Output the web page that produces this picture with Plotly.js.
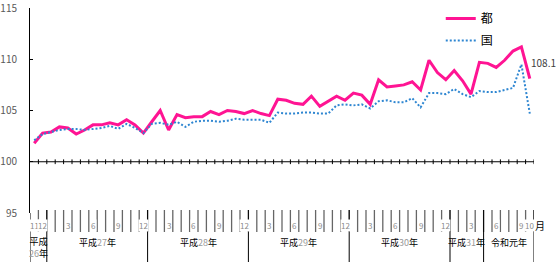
<!DOCTYPE html>
<html>
<head>
<meta charset="utf-8">
<script src="https://cdn.plot.ly/plotly-3.0.1.min.js"></script>
<style>html,body{margin:0;padding:0;background:#fff;}#chart{width:558px;height:265px;}</style>
</head>
<body>
<div id="chart"></div>
<script>
// ---- data ----
var months = [11,12,1,2,3,4,5,6,7,8,9,10,11,12,1,2,3,4,5,6,7,8,9,10,11,12,1,2,3,4,5,6,7,8,9,10,11,12,1,2,3,4,5,6,7,8,9,10,11,12,1,2,3,4,5,6,7,8,9,10];
var tokyo = [101.8,102.8,102.9,103.4,103.3,102.7,103.1,103.6,103.6,103.8,103.6,104.1,103.6,
             102.8,103.9,105.0,103.1,104.6,104.3,104.4,104.4,104.9,104.6,105.0,104.9,
             104.7,105.0,104.7,104.5,106.1,106.0,105.7,105.6,106.4,105.4,105.9,106.4,
             106.0,106.7,106.5,105.6,108.0,107.3,107.4,107.5,107.8,107.0,109.9,108.7,
             108.0,108.9,107.9,106.6,109.7,109.6,109.2,109.9,110.8,111.2,108.1];
var national = [102.1,102.7,102.9,103.1,103.2,103.2,103.1,103.2,103.3,103.5,103.2,103.7,103.3,
                102.8,103.7,103.8,103.6,103.9,103.4,103.9,104.0,104.0,103.9,104.0,104.2,
                104.1,104.1,104.1,103.8,104.8,104.7,104.7,104.8,104.8,104.7,104.7,105.5,
                105.6,105.5,105.6,105.2,105.9,106.0,105.8,105.8,106.2,105.3,106.7,106.7,
                106.6,107.1,106.6,106.3,106.9,106.8,106.8,107.0,107.2,109.5,104.7];
var eraNames = ['平成','平成','平成','平成','平成','平成','令和'];
var eraYears = ['26','27','28','29','30','31','元'];
var yearStartIdx = [0,2,14,26,38,50,54];
var seriesNames = ['都','国'];
var yTicks = [95,100,105,110,115];

// ---- build ----
var n = months.length;
var xs = months.map(function(_, i){ return i; });

var FONT = '"Noto Sans CJK JP", "Noto Sans", sans-serif';
var traces = [
  {x: xs, y: tokyo, name: seriesNames[0], type: 'scatter', mode: 'lines',
   line: {color: '#FF1493', width: 3}, legendgroup: 'a', hoverinfo: 'skip'},
  {x: xs, y: national, name: seriesNames[1], type: 'scatter', mode: 'lines',
   line: {color: '#2E86D1', width: 2, dash: '2px,2px'}, legendgroup: 'b', hoverinfo: 'skip'}
];

// plot area: 30..534 px horizontally, 8..213 px vertically
var TOP = 8, BOT = 213, H = BOT - TOP;
function py(p){ return (BOT - p) / H; } // pixel y -> paper y
var shapes = [];
shapes.push({type:'line', xref:'x', yref:'y', x0:-0.5, x1:n-0.5, y0:100, y1:100, line:{color:'#000', width:1.2}});
for (var k = 1; k <= n; k++) {
  shapes.push({type:'line', xref:'x', yref:'y', x0:k-0.5, x1:k-0.5, y0:99.77, y1:100.23, line:{color:'#000', width:1}});
  shapes.push({type:'line', xref:'x', yref:'paper', x0:k-0.5, x1:k-0.5, y0:py(210), y1:py(232), line:{color:'#666', width:1.3}});
}
var seps = yearStartIdx.slice(1).concat([n]);
seps.forEach(function(s){
  shapes.push({type:'line', xref:'x', yref:'paper', x0:s-0.5, x1:s-0.5, y0:py(210), y1:py(262), line:{color:'#000', width:1}});
});
shapes.push({type:'line', xref:'x', yref:'paper', x0:-0.5, x1:-0.5, y0:0, y1:py(262), line:{color:'#000', width:1}});

var annotations = [];
months.forEach(function(m, i){
  if (i === 0 || i === n - 1 || m % 3 === 0) {
    annotations.push({x:i, y:py(225), xref:'x', yref:'paper', text:String(m), showarrow:false,
      font:{family:FONT, size:8, color:'#8a8a8a'}, xanchor:'center', yanchor:'middle', bgcolor:'#fff', borderpad:0});
  }
});
yearStartIdx.forEach(function(s, i){
  var e = (i < yearStartIdx.length - 1 ? yearStartIdx[i+1] : n) - 1;
  var num = /\d/.test(eraYears[i]) ? '<span style="color:#9a9a9a">' + eraYears[i] + '</span>' : eraYears[i];
  var txt, yy;
  if (e - s < 2) { txt = eraNames[i] + '<br>' + num + '年'; yy = py(248); }
  else { txt = eraNames[i] + num + '年'; yy = py(243); }
  annotations.push({x:(s+e)/2, y:yy, xref:'x', yref:'paper', text:txt, showarrow:false,
    font:{family:FONT, size:9, color:'#000'}, xanchor:'center', yanchor:'middle'});
});
annotations.push({x:(540-30)/504, y:py(225), xref:'paper', yref:'paper', text:'月', showarrow:false,
  font:{family:FONT, size:10, color:'#000'}, xanchor:'center', yanchor:'middle'});
annotations.push({x:n-1, y:tokyo[n-1], xref:'x', yref:'y', text:tokyo[n-1].toFixed(1), showarrow:false,
  xanchor:'left', yanchor:'middle', xshift:-1, yshift:16, font:{family:FONT, size:10, color:'#404040'}});

var layout = {
  width: 558, height: 265,
  margin: {l:30, r:24, t:TOP, b:265-BOT, pad:0, autoexpand:false},
  paper_bgcolor: '#fff', plot_bgcolor: '#fff',
  font: {family: FONT},
  showlegend: true,
  legend: {x:0.815, y:1.02, xanchor:'left', yanchor:'top', bgcolor:'rgba(0,0,0,0)',
           font:{family:FONT, size:12, color:'#000'}, traceorder:'grouped', tracegroupgap:3},
  xaxis: {range:[-0.5, n-0.5], showgrid:false, zeroline:false, showline:false,
          showticklabels:false, ticks:'', fixedrange:true},
  yaxis: {range:[95,115], tickmode:'array', tickvals:yTicks, showgrid:false, zeroline:false,
          showline:true, linecolor:'#000', linewidth:1, ticks:'inside', ticklen:3, tickcolor:'#000',
          ticklabelstandoff:10, ticklabeloverflow:'allow', tickfont:{family:FONT, size:10, color:'#595959'}, fixedrange:true},
  shapes: shapes,
  annotations: annotations
};
Plotly.newPlot('chart', traces, layout, {staticPlot:true, displayModeBar:false});
</script>
</body>
</html>
